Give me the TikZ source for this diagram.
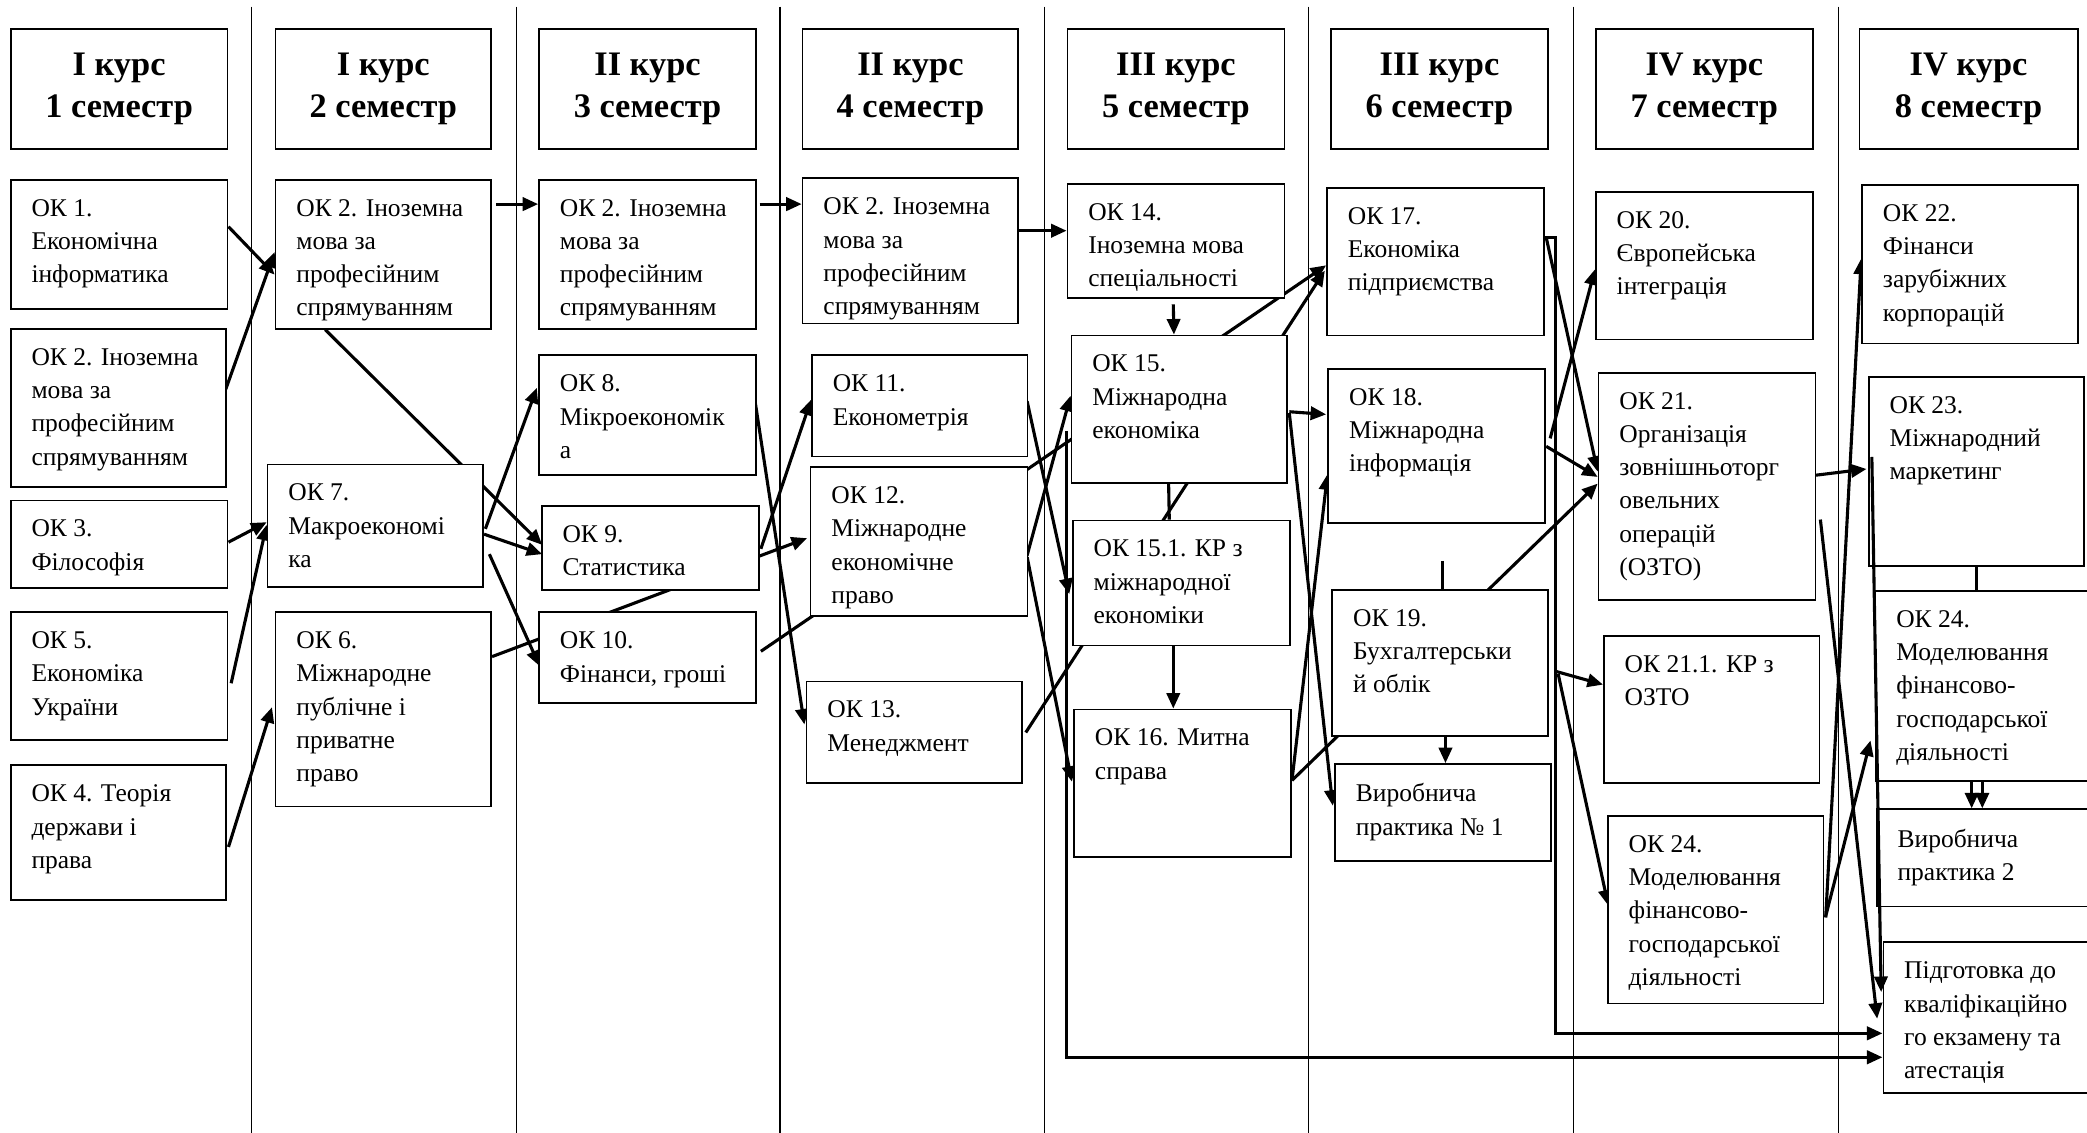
\documentclass[tikz,border=0pt]{standalone}
\usepackage{fontspec}
\setmainfont{Liberation Serif}
\usetikzlibrary{arrows.meta,calc,fit}
\pgfdeclarelayer{bg}
\pgfsetlayers{bg,main}

\tikzset{
  okbox/.style={draw, fill=white, line width=0.8pt, inner sep=0pt},
  oktext/.style={anchor=north west, inner sep=0pt, xshift=9.6pt, yshift=-9pt, align=left, font=\fontsize{11.5}{15}\selectfont},
  headtext/.style={inner sep=0pt, align=center, font=\fontsize{15.5}{19}\selectfont\bfseries},
  link/.style={line width=1.4pt, -{Triangle[length=7pt,width=6pt]}},
  bare/.style={line width=1.4pt},
  colsep/.style={line width=0.5pt}
}

\begin{document}
\begin{tikzpicture}[x=0.6pt, y=-0.6pt]
\useasboundingbox (0,0) rectangle (1568,851);

% semester headers
\node[okbox, fit={(8,22) (171,112)}, label={[headtext]center:{I курс\\1 семестр}}] (h1) {};
\node[okbox, fit={(207,22) (369,112)}, label={[headtext]center:{I курс\\2 семестр}}] (h2) {};
\node[okbox, fit={(405,22) (568,112)}, label={[headtext]center:{II курс\\3 семестр}}] (h3) {};
\node[okbox, fit={(603,22) (765,112)}, label={[headtext]center:{II курс\\4 семестр}}] (h4) {};
\node[okbox, fit={(802,22) (965,112)}, label={[headtext]center:{III курс\\5 семестр}}] (h5) {};
\node[okbox, fit={(1000,22) (1163,112)}, label={[headtext]center:{III курс\\6 семестр}}] (h6) {};
\node[okbox, fit={(1199,22) (1362,112)}, label={[headtext]center:{IV курс\\7 семестр}}] (h7) {};
\node[okbox, fit={(1397,22) (1561,112)}, label={[headtext]center:{IV курс\\8 семестр}}] (h8) {};

% 1 semester
\node[okbox, fit={(8,135) (171,232)}, label={[oktext]north west:{ОК 1.\\Економічна\\інформатика}}] (ok1) {};
\node[okbox, fit={(8,247) (170,366)}, label={[oktext]north west:{ОК 2. Іноземна\\мова за\\професійним\\спрямуванням}}] (ok2a) {};
\node[okbox, fit={(8,376) (171,442)}, label={[oktext]north west:{ОК 3.\\Філософія}}] (ok3) {};
\node[okbox, fit={(8,460) (171,556)}, label={[oktext]north west:{ОК 5.\\Економіка\\України}}] (ok5) {};
\node[okbox, fit={(8,575) (170,676)}, label={[oktext]north west:{ОК 4. Теорія\\держави і\\права}}] (ok4) {};

% 2 semester
\node[okbox, fit={(207,135) (369,247)}, label={[oktext]north west:{ОК 2. Іноземна\\мова за\\професійним\\спрямуванням}}] (ok2b) {};
\node[okbox, fit={(201,349) (363,441)}, label={[oktext]north west:{ОК 7.\\Макроекономі\\ка}}] (ok7) {};
\node[okbox, fit={(207,460) (369,606)}, label={[oktext]north west:{ОК 6.\\Міжнародне\\публічне і\\приватне\\право}}] (ok6) {};

% 3 semester
\node[okbox, fit={(405,135) (568,247)}, label={[oktext]north west:{ОК 2. Іноземна\\мова за\\професійним\\спрямуванням}}] (ok2c) {};
\node[okbox, fit={(405,267) (568,357)}, label={[oktext]north west:{ОК 8.\\Мікроекономік\\а}}] (ok8) {};
\node[okbox, fit={(407,380) (570,443)}, label={[oktext]north west:{ОК 9.\\Статистика}}] (ok9) {};
\node[okbox, fit={(405,460) (568,528)}, label={[oktext]north west:{ОК 10.\\Фінанси, гроші}}] (ok10) {};

% 4 semester
\node[okbox, fit={(603,134) (765,243)}, label={[oktext]north west:{ОК 2. Іноземна\\мова за\\професійним\\спрямуванням}}] (ok2d) {};
\node[okbox, fit={(610,267) (772,343)}, label={[oktext]north west:{ОК 11.\\Економетрія}}] (ok11) {};
\node[okbox, fit={(609,351) (772,463)}, label={[oktext]north west:{ОК 12.\\Міжнародне\\економічне\\право}}] (ok12) {};
\node[okbox, fit={(606,512) (768,588)}, label={[oktext]north west:{ОК 13.\\Менеджмент}}] (ok13) {};

% 5 semester
\node[okbox, fit={(802,138) (965,224)}, label={[oktext]north west:{ОК 14.\\Іноземна мова\\спеціальності}}] (ok14) {};
\node[okbox, fit={(805,252) (967,363)}, label={[oktext]north west:{ОК 15.\\Міжнародна\\економіка}}] (ok15) {};
\node[okbox, fit={(806,391) (969,485)}, label={[oktext]north west:{ОК 15.1. КР з\\міжнародної\\економіки}}] (ok151) {};
\node[okbox, fit={(807,533) (970,644)}, label={[oktext]north west:{ОК 16. Митна\\справа}}] (ok16) {};

% 6 semester
\node[okbox, fit={(997,141) (1160,252)}, label={[oktext]north west:{ОК 17.\\Економіка\\підприємства}}] (ok17) {};
\node[okbox, fit={(998,277) (1161,393)}, label={[oktext]north west:{ОК 18.\\Міжнародна\\інформація}}] (ok18) {};
\node[okbox, fit={(1001,443) (1163,553)}, label={[oktext]north west:{ОК 19.\\Бухгалтерськи\\й облік}}] (ok19) {};
\node[okbox, fit={(1003,574) (1165,647)}, label={[oktext]north west:{Виробнича\\практика № 1}}] (vp1) {};

% 7 semester
\node[okbox, fit={(1199,144) (1362,255)}, label={[oktext]north west:{ОК 20.\\Європейська\\інтеграція}}] (ok20) {};
\node[okbox, fit={(1201,280) (1364,451)}, label={[oktext]north west:{ОК 21.\\Організація\\зовнішньоторг\\овельних\\операцій\\(ОЗТО)}}] (ok21) {};
\node[okbox, fit={(1205,478) (1367,588)}, label={[oktext]north west:{ОК 21.1. КР з\\ОЗТО}}] (ok211) {};
\node[okbox, fit={(1208,613) (1370,754)}, label={[oktext]north west:{ОК 24.\\Моделювання\\фінансово-\\господарської\\діяльності}}] (ok24a) {};

% 8 semester
\node[okbox, fit={(1399,139) (1561,258)}, label={[oktext]north west:{ОК 22.\\Фінанси\\зарубіжних\\корпорацій}}] (ok22) {};
\node[okbox, fit={(1404,283) (1566,425)}, label={[oktext]north west:{ОК 23.\\Міжнародний\\маркетинг}}] (ok23) {};
\node[okbox, fit={(1409,444) (1600,587)}, label={[oktext]north west:{ОК 24.\\Моделювання\\фінансово-\\господарської\\діяльності}}] (ok24b) {};
\node[okbox, fit={(1410,608) (1600,681)}, label={[oktext]north west:{Виробнича\\практика 2}}] (vp2) {};
\node[okbox, fit={(1415,708) (1600,821)}, label={[oktext]north west:{Підготовка до\\кваліфікаційно\\го екзамену та\\атестація}}] (exam) {};

\begin{pgfonlayer}{bg}
\foreach \x in {189,388,586,785,983,1182,1381}
  \draw[colsep] (\x,5) -- (\x,851);

\draw[link] ($(ok1.north east)+(0,36)$) -- ($(ok2b.north west)+(0,72)$);
\draw[link] ($(ok2a.north east)+(-1,46)$) -- ($(ok2b.north west)+(0,55)$);
\draw[link] ($(ok3.north east)+(0,32)$) -- ($(ok7.north west)+(0,44)$);
\draw[link] ($(ok5.north east)+(2,54)$) -- ($(ok7.north west)+(0,46)$);
\draw[link] ($(ok4.north east)+(1,62)$) -- ($(ok6.north west)+(-2,72)$);

\draw[link] ($(ok2b.north east)+(3,19)$) -- ($(ok2c.north west)+(0,19)$);
\draw[link] ($(ok2b.south west)+(38,0)$) -- ($(ok9.north west)+(1,30)$);
\draw[link] ($(ok7.north east)+(0,53)$) -- ($(ok9.north west)+(1,37)$);
\draw[link] ($(ok7.north east)+(1,49)$) -- ($(ok8.north west)+(-1,25)$);
\draw[link] ($(ok7.north east)+(4,68)$) -- ($(ok10.north west)+(1,41)$);
\draw[link] ($(ok6.north east)+(0,34)$) -- ($(ok12.north west)+(-2,54)$);

\draw[link] ($(ok2c.north east)+(2,19)$) -- ($(ok2d.north west)+(0,20)$);
\draw[link] ($(ok8.north east)+(-2,31)$) -- ($(ok13.north west)+(-1,33)$);
\draw[link] ($(ok9.north east)+(1,33)$) -- ($(ok11.north west)+(0,34)$);
\draw[link] ($(ok10.north east)+(3,30)$) -- ($(ok17.north west)+(0,59)$);

\draw[link] ($(ok2d.north east)+(0,40)$) -- ($(ok14.north west)+(0,36)$);
\draw[link] ($(ok11.north east)+(-1,35)$) -- ($(ok151.north west)+(-2,56)$);
\draw[link] ($(ok12.north east)+(-1,67)$) -- ($(ok15.north west)+(0,46)$);
\draw[link] ($(ok12.north east)+(-1,68)$) -- ($(ok16.north west)+(-1,55)$);
\draw[link] ($(ok13.north east)+(2,39)$) -- ($(ok17.north west)+(-1,63)$);

\draw[link] ($(ok14.south)+(-2,4)$) -- ($(ok15.north)+(-4,0)$);
\draw[bare] ($(ok15.south)+(-8,0)$) -- ($(ok151.north)+(-9,0)$);
\draw[link] ($(ok151.south)+(-6,0)$) -- ($(ok16.north)+(-7,0)$);
\draw[link] ($(ok15.north east)+(1,58)$) -- ($(ok18.north west)+(-1,35)$);
\draw[link] ($(ok15.north east)+(1,59)$) -- ($(vp1.north west)+(-1,32)$);
\draw[link] ($(ok16.north east)+(0,54)$) -- ($(ok18.north west)+(0,80)$);
\draw[link] ($(ok16.north east)+(0,54)$) -- ($(ok21.north west)+(0,84)$);
\draw[link] ($(ok15.south west)+(-3,-40)$) |- ($(exam.north west)+(0,87)$);

\draw[link] ($(ok17.north east)+(1,38)$) -- ($(ok21.north west)+(0,75)$);
\draw[link] ($(ok18.north east)+(3,53)$) -- ($(ok20.north west)+(0,59)$);
\draw[link] ($(ok18.north east)+(0,59)$) -- ($(ok21.north west)+(0,79)$);
\coordinate (s19) at ($(ok19.north)+(2,-21)$);
\draw[bare] (s19) -- ($(ok19.north)+(2,0)$);
\draw[link] ($(ok19.south)+(4,0)$) -- ($(vp1.north)+(2,0)$);
\draw[link] ($(ok19.north east)+(5,62)$) -- ($(ok211.north west)+(0,37)$);
\draw[link] ($(ok19.north east)+(7,64)$) -- ($(ok24a.north west)+(1,68)$);
\draw[link] ($(ok17.north east)+(0,38)$) -- ++(8,0) |- ($(exam.north west)+(0,69)$);

\draw[link] ($(ok21.north east)+(-3,78)$) -- ($(ok23.north west)+(-1,70)$);
\draw[link] ($(ok21.north east)+(3,111)$) -- ($(exam.north west)+(-4,58)$);
\draw[link] ($(ok24a.north east)+(1,77)$) -- ($(ok22.north west)+(0,56)$);
\draw[link] ($(ok24a.north east)+(1,76)$) -- ($(ok24b.north west)+(-3,113)$);
\draw[bare] (ok23.south) -- (ok23.south |- ok24b.north);
\draw[link] ($(ok24b.south west)+(73,0)$) -- ($(vp2.north west)+(72,0)$);
\draw[link] ($(ok24b.south west)+(81,0)$) -- ($(vp2.north west)+(80,0)$);
\end{pgfonlayer}

\draw[link] ($(ok23.north west)+(3,61)$) -- ($(exam.north west)+(-1,38)$);
\end{tikzpicture}
\end{document}
